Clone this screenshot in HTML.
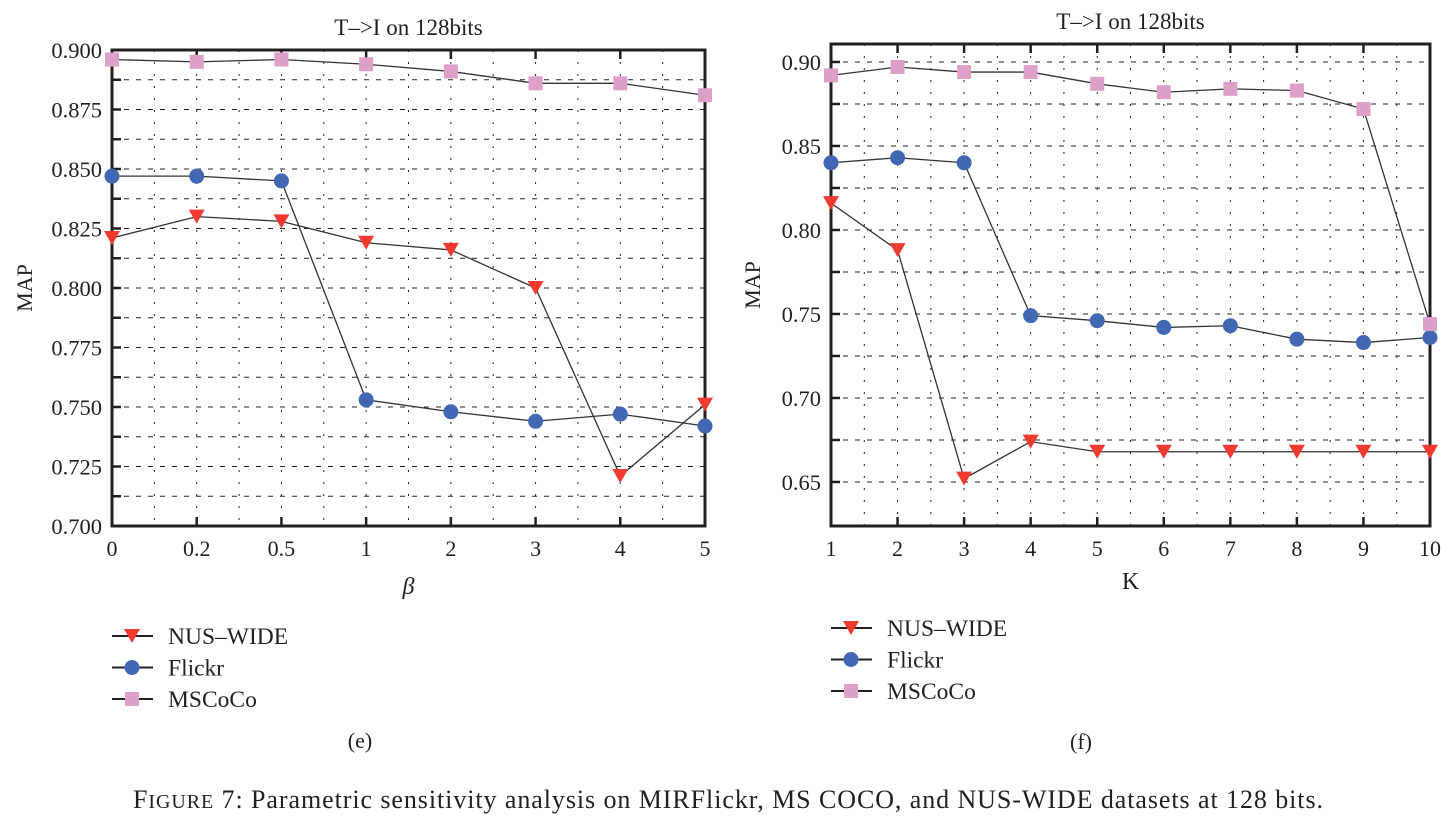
<!DOCTYPE html>
<html><head><meta charset="utf-8"><style>
body{margin:0;background:#fff;width:1455px;height:827px;overflow:hidden}
svg text{font-family:"Liberation Serif",serif;fill:#231f20}
</style></head><body>
<svg id="s" width="1455" height="827"></svg>
<script>
const catsE=["0","0.2","0.5","1","2","3","4","5"];
const nusE=[0.821,0.830,0.828,0.819,0.816,0.800,0.721,0.751];
const flkE=[0.847,0.847,0.845,0.753,0.748,0.744,0.747,0.742];
const cocoE=[0.896,0.895,0.896,0.894,0.891,0.886,0.886,0.881];
const yTicksE=[0.700,0.725,0.750,0.775,0.800,0.825,0.850,0.875,0.900];
const catsF=["1","2","3","4","5","6","7","8","9","10"];
const nusF=[0.816,0.788,0.652,0.674,0.668,0.668,0.668,0.668,0.668,0.668];
const flkF=[0.840,0.843,0.840,0.749,0.746,0.742,0.743,0.735,0.733,0.736];
const cocoF=[0.892,0.897,0.894,0.894,0.887,0.882,0.884,0.883,0.872,0.744];
const yTicksF=[0.65,0.70,0.75,0.80,0.85,0.90];
const seriesNames=["NUS–WIDE","Flickr","MSCoCo"];

const NS="http://www.w3.org/2000/svg";
const svg=document.getElementById('s');
function el(t,a,p){const e=document.createElementNS(NS,t);for(const k in a)e.setAttribute(k,a[k]);(p||svg).appendChild(e);return e;}
function txt(x,y,s,sz,anchor,p){const e=el('text',{x:x,y:y,'font-size':sz,'text-anchor':anchor||'middle'},p);e.textContent=s;return e;}
function marker(type,x,y,g){
  if(type===0){return el('path',{d:`M${x-8},${y-7}L${x+8},${y-7}L${x},${y+7}Z`,fill:'#ee3a2f'},g);}
  if(type===1){return el('circle',{cx:x,cy:y,r:7.5,fill:'#4268b4'},g);}
  return el('rect',{x:x-7,y:y-7,width:14,height:14,fill:'#dda0c8'},g);
}
function chart(o){
  const g=el('g',{});
  
  
  const n=o.cats.length;
  const X=i=>o.x0+(o.x1-o.x0)*i/(n-1);
  const Y=v=>o.y1-(v-o.ymin)/(o.ymax-o.ymin)*(o.y1-o.y0);
  for(let i=0.5;i<n-1;i+=0.5){el('line',{x1:X(i),x2:X(i),y1:o.y0,y2:o.y1,stroke:'#222','stroke-width':1,'stroke-dasharray':'2,10'},g);}
  const start=Math.ceil(o.ymin/o.gstep-1e-6)*o.gstep;
  for(let v=start; v<o.ymax; v+=o.gstep){
    const y=Y(v);
    if(y>o.y1-5||y<o.y0+5) continue;
    el('line',{x1:o.x0,x2:o.x1,y1:y,y2:y,stroke:'#222','stroke-width':1,'stroke-dasharray':'5,7'},g);
    el('line',{x1:o.x0,x2:o.x0+9,y1:y,y2:y,stroke:'#231f20','stroke-width':2.5},g);
  }
  for(let i=0;i<n;i++){
    el('line',{x1:X(i),x2:X(i),y1:o.y1,y2:o.y1-9,stroke:'#231f20','stroke-width':2.5},g);
    el('line',{x1:X(i),x2:X(i),y1:o.y0,y2:o.y0+9,stroke:'#231f20','stroke-width':2.5},g);
    const t=txt(X(i),o.y1+30,o.cats[i],22,'middle',g);
    
    
  }
  el('rect',{x:o.x0,y:o.y0,width:o.x1-o.x0,height:o.y1-o.y0,fill:'none',stroke:'#231f20','stroke-width':3},g);
  o.yt.forEach(v=>{
    const t=txt(o.x0-10,Y(v)+8,v.toFixed(o.dec),22.5,'end',g);
    
    
  });
  const data=[o.nus,o.flk,o.coco];
  data.forEach((d,si)=>{
    const sg=el('g',{},g);
    
    
    el('polyline',{points:d.map((v,i)=>X(i)+','+Y(v)).join(' '),fill:'none',stroke:'#333','stroke-width':1.3},sg);
    d.forEach((v,i)=>{const m=marker(si,X(i),Y(v),sg);
      
      });
  });
  const tt=txt((o.x0+o.x1)/2,o.titleY,'T–>I on 128bits',23,'middle',g);
  
  
  const yl=txt(0,0,'MAP',22,'middle',g);
  yl.setAttribute('transform',`translate(${o.ylx},${(o.y0+o.y1)/2}) rotate(-90)`);
  
  
  const xl=txt((o.x0+o.x1)/2,o.xlY,o.xlab,24,'middle',g);
  if(o.italic) xl.setAttribute('font-style','italic');
  
  
  const lg=el('g',{},g);
  
  
  seriesNames.forEach((s,si)=>{
    const y=o.legY+si*31.5;
    const e=el('g',{},lg);
    
    
    el('line',{x1:o.x0,x2:o.x0+41,y1:y,y2:y,stroke:'#231f20','stroke-width':2},e);
    marker(si,o.x0+20,y,e);
    txt(o.x0+56,y+8,s,23.5,'start',e);
  });
  const sl=txt(o.subX,o.subY,o.sub,22,'middle',g);
  
  
}
chart({name:'chart-e',cats:catsE,nus:nusE,flk:flkE,coco:cocoE,yt:yTicksE,dec:3,x0:112,x1:705,y0:50,y1:526,ymin:0.7,ymax:0.9,gstep:0.0125,titleY:35,ylx:32,xlY:594,xlab:'β',italic:true,legY:636,sub:'(e)',subX:360,subY:748});
chart({name:'chart-f',cats:catsF,nus:nusF,flk:flkF,coco:cocoF,yt:yTicksF,dec:2,x0:831,x1:1430,y0:44,y1:526,ymin:0.6238,ymax:0.9107,gstep:0.025,titleY:29,ylx:760,xlY:589,xlab:'K',italic:false,legY:628,sub:'(f)',subX:1081,subY:749});
const cap=el('text',{x:133,y:808,'font-size':26,'text-anchor':'start',textLength:1190,lengthAdjust:'spacing'});
cap.innerHTML='F<tspan font-size="20">IGURE</tspan> 7: Parametric sensitivity analysis on MIRFlickr, MS COCO, and NUS-WIDE datasets at 128 bits.';


</script>
</body></html>
